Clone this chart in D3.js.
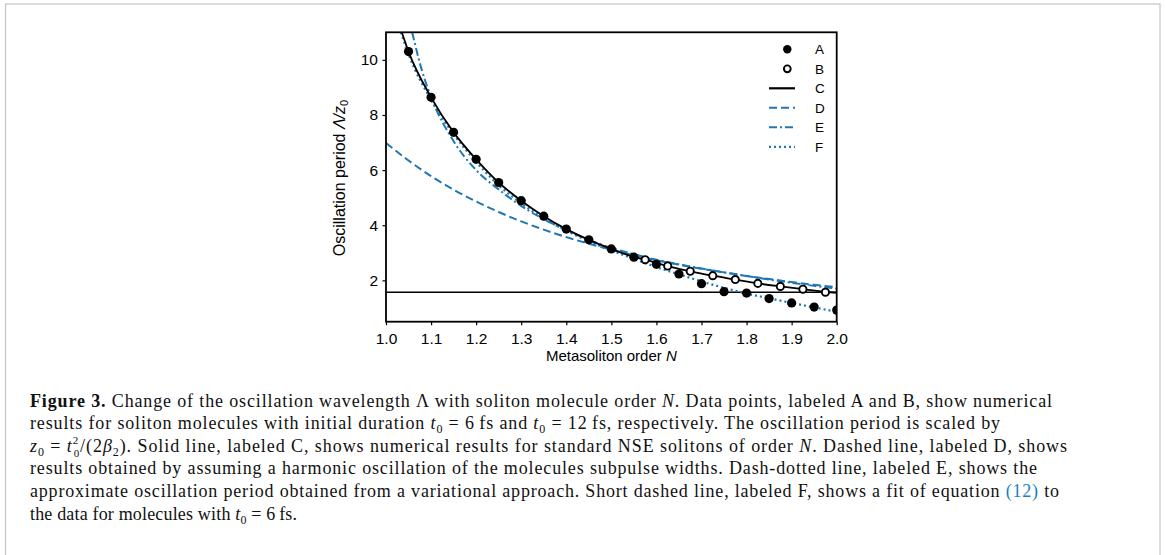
<!DOCTYPE html>
<html><head><meta charset="utf-8">
<script src="https://cdn.jsdelivr.net/npm/d3@7"></script>
<style>
html,body{margin:0;padding:0;background:#fff;}
svg{display:block;}
</style></head>
<body>
<svg id="fig" width="1165" height="555"></svg>
<script>
// ---- data ----
const N_A = [1.05,1.10,1.15,1.20,1.25,1.30,1.35,1.40,1.45,1.50,1.55,1.60,1.65,1.70,1.75,1.80,1.85,1.90,1.95,2.00];
const A_vals = [10.3,8.64,7.37,6.39,5.55,4.89,4.33,3.86,3.47,3.14,2.84,2.58,2.23,1.88,1.59,1.54,1.34,1.18,1.03,0.92];
const N_B = [1.575,1.625,1.675,1.725,1.775,1.825,1.875,1.925,1.975];
const B_vals = [2.75,2.52,2.33,2.17,2.03,1.89,1.78,1.68,1.57];
const N_C = [1.035,1.05,1.10,1.15,1.20,1.25,1.30,1.35,1.40,1.45,1.50,1.55,1.575,1.625,1.675,1.725,1.775,1.825,1.875,1.925,1.975,2.00];
const C_vals = [11.0,10.3,8.64,7.37,6.39,5.55,4.89,4.33,3.86,3.47,3.14,2.85,2.75,2.52,2.33,2.17,2.03,1.89,1.78,1.68,1.58,1.55];
const N_D = [1.00,1.05,1.10,1.15,1.20,1.25,1.30,1.35,1.40,1.45,1.50,1.55,1.60,1.65,1.70,1.75,1.80,1.85,1.90,1.95,2.00];
const D_vals = [6.98,6.35,5.78,5.29,4.86,4.48,4.14,3.84,3.57,3.33,3.11,2.91,2.73,2.57,2.42,2.29,2.16,2.05,1.94,1.84,1.75];
const N_E = [1.058,1.08,1.10,1.15,1.20,1.25,1.30,1.35,1.40,1.45,1.50,1.55,1.60,1.65,1.70,1.75,1.80,1.85,1.90,1.95,2.00];
const E_vals = [11.0,9.6,8.65,7.05,6.0,5.3,4.7,4.22,3.82,3.47,3.18,2.95,2.75,2.58,2.43,2.29,2.16,2.03,1.91,1.80,1.70];
const N_F = [1.033,1.05,1.10,1.15,1.20,1.25,1.30,1.35,1.40,1.45,1.50,1.55,1.60,1.65,1.70,1.75,1.80,1.85,1.90,1.95,2.00];
const F_vals = [11.0,10.2,8.55,7.3,6.3,5.45,4.8,4.25,3.8,3.42,3.08,2.78,2.48,2.22,1.96,1.73,1.52,1.35,1.18,1.02,0.86];
const hLineVal = 1.571;
const xTicks = [1.0,1.1,1.2,1.3,1.4,1.5,1.6,1.7,1.8,1.9,2.0];
const yTicks = [2,4,6,8,10];
const legendLabels = ["A","B","C","D","E","F"];

// ---- layout ----
const svg = d3.select("#fig");
const blue = "#1f77b4";
const L = 386, R = 836.7, T = 32.3, B = 321.7;
const x = d3.scaleLinear().domain([1.0, 2.0]).range([L, R]);
const y = d3.scaleLinear().domain([0.5, 11]).range([B, T]);

// figure frame
svg.append("rect").attr("x",5.5).attr("y",4).attr("width",1154.5).attr("height",600)
  .attr("fill","none").attr("stroke","#c8c8c8").attr("stroke-width",1.3);

svg.append("clipPath").attr("id","clip").append("rect")
  .attr("x",L).attr("y",T).attr("width",R-L).attr("height",B-T);
const plot = svg.append("g").attr("clip-path","url(#clip)");

const line = d3.line().x(d=>x(d[0])).y(d=>y(d[1])).curve(d3.curveMonotoneX);
const zip = (a,b)=>a.map((v,i)=>[v,b[i]]);

// horizontal reference line
plot.append("line").attr("x1",x(1.0)).attr("x2",x(2.0)).attr("y1",y(hLineVal)).attr("y2",y(hLineVal))
  .attr("stroke","#000").attr("stroke-width",1.6);

// D, E, F, C
plot.append("path").attr("d",line(zip(N_D,D_vals))).attr("fill","none").attr("stroke",blue)
  .attr("stroke-width",2).attr("stroke-dasharray","8,4");
plot.append("path").attr("d",line(zip(N_E,E_vals))).attr("fill","none").attr("stroke",blue)
  .attr("stroke-width",2).attr("stroke-dasharray","8,3,2,3");
plot.append("path").attr("d",line(zip(N_F,F_vals))).attr("fill","none").attr("stroke",blue)
  .attr("stroke-width",2.2).attr("stroke-dasharray","2,3");
plot.append("path").attr("d",line(zip(N_C,C_vals))).attr("fill","none").attr("stroke","#000")
  .attr("stroke-width",1.8);

// markers
plot.selectAll("circle.a").data(zip(N_A,A_vals)).join("circle").attr("class","a")
  .attr("cx",d=>x(d[0])).attr("cy",d=>y(d[1])).attr("r",4.6).attr("fill","#000");
plot.selectAll("circle.b").data(zip(N_B,B_vals)).join("circle").attr("class","b")
  .attr("cx",d=>x(d[0])).attr("cy",d=>y(d[1])).attr("r",3.6).attr("fill","#fff")
  .attr("stroke","#000").attr("stroke-width",1.9);

// axes
const fontSans = "'Liberation Sans', Arial, Helvetica, sans-serif";
const xAxis = svg.append("g").attr("transform",`translate(0,${B})`)
  .call(d3.axisBottom(x).tickValues(xTicks).tickFormat(d3.format(".1f")).tickSize(3.5).tickPadding(7.5));
const yAxis = svg.append("g").attr("transform",`translate(${L},0)`)
  .call(d3.axisLeft(y).tickValues(yTicks).tickFormat(d3.format("d")).tickSize(3.5).tickPadding(4.5));
[xAxis,yAxis].forEach(g=>{
  g.attr("font-size",null).attr("font-family",null);
  g.select(".domain").remove();
  g.selectAll(".tick line").attr("stroke","#000").attr("stroke-width",1.2);
  g.selectAll(".tick text").attr("fill","#000").style("font-family",fontSans).style("font-size","15.5px");
});
svg.append("rect").attr("x",L).attr("y",T).attr("width",R-L).attr("height",B-T)
  .attr("fill","none").attr("stroke","#000").attr("stroke-width",1.8);

// axis labels
const xl = svg.append("text").attr("x",(L+R)/2).attr("y",361).attr("text-anchor","middle")
  .style("font-family",fontSans).style("font-size","15px");
xl.append("tspan").text("Metasoliton order ");
xl.append("tspan").attr("font-style","italic").text("N");

const yl = svg.append("text").attr("transform",`translate(345,178) rotate(-90)`).attr("text-anchor","middle")
  .style("font-family",fontSans).style("font-size","16px");
yl.append("tspan").text("Oscillation period ");
yl.append("tspan").attr("font-style","italic").text("\u039B/z");
yl.append("tspan").attr("font-size","11px").attr("dy",3).text("0");

// legend
const lg = svg.append("g");
const lgY0 = 49.3, lgDy = 19.5;
legendLabels.forEach((lab,i)=>{
  const yy = lgY0 + i*lgDy;
  if (lab==="A") lg.append("circle").attr("cx",787.3).attr("cy",yy).attr("r",4.2).attr("fill","#000");
  else if (lab==="B") lg.append("circle").attr("cx",787.3).attr("cy",yy).attr("r",3.4).attr("fill","#fff").attr("stroke","#000").attr("stroke-width",1.9);
  else {
    const st = {C:["#000",2.2,null],D:[blue,2,"8,4"],E:[blue,2,"8,3,2,3"],F:[blue,2.2,"2,3"]}[lab];
    const l = lg.append("line").attr("x1",769).attr("x2",795).attr("y1",yy).attr("y2",yy)
      .attr("stroke",st[0]).attr("stroke-width",st[1]);
    if (st[2]) l.attr("stroke-dasharray",st[2]);
  }
  lg.append("text").attr("x",815).attr("y",yy).attr("dy","0.36em")
    .style("font-family",fontSans).style("font-size","13.5px").text(lab);
});

// caption
const serif = "'Liberation Serif', 'Times New Roman', Times, serif";
const capLines = [
  [["b","Figure 3."],["n"," Change of the oscillation wavelength \u039B with soliton molecule order "],["i","N"],["n",". Data points, labeled A and B, show numerical"]],
  [["n","results for soliton molecules with initial duration "],["i","t"],["sub","0"],["n"," = 6\u2009fs and "],["i","t"],["sub","0"],["n"," = 12\u2009fs, respectively. The oscillation period is scaled by"]],
  [["i","z"],["sub","0"],["n"," = "],["i","t"],["sup","2"],["subx","0"],["n","/(2"],["i","\u03B2"],["sub","2"],["n","). Solid line, labeled C, shows numerical results for standard NSE solitons of order "],["i","N"],["n",". Dashed line, labeled D, shows"]],
  [["n","results obtained by assuming a harmonic oscillation of the molecules subpulse widths. Dash-dotted line, labeled E, shows the"]],
  [["n","approximate oscillation period obtained from a variational approach. Short dashed line, labeled F, shows a fit of equation "],["blue","(12)"],["n"," to"]],
  [["n","the data for molecules with "],["i","t"],["sub","0"],["n"," = 6\u2009fs."]]
];
const capWidths = [1022, 970, 1037, 1007, 1029, 267];
const capY0 = 406.5, capDy = 22.6;
capLines.forEach((segs,li)=>{
  const t = svg.append("text").attr("x",30).attr("y",capY0+li*capDy)
    .style("font-family",serif).style("font-size","18px").attr("fill","#111");
  let shift = 0;
  segs.forEach(([k,s])=>{
    const ts = t.append("tspan").text(s);
    let target = 0, dx = null;
    if (k==="b") ts.attr("font-weight","bold");
    if (k==="i") ts.attr("font-style","italic");
    if (k==="blue") ts.attr("fill","#1a7fc1");
    if (k==="sub") { ts.attr("font-size","12px"); target = 4; }
    if (k==="sup") { ts.attr("font-size","11px"); target = -8; }
    if (k==="subx") { ts.attr("font-size","11px"); target = 5; dx = -5.5; }
    const dy = target - shift;
    if (dy!==0) ts.attr("dy",dy);
    if (dx!==null) ts.attr("dx",dx);
    shift = target;
  });
  const w = t.node().getComputedTextLength();
  if (Math.abs(w - capWidths[li]) > 3) {
    t.attr("textLength",capWidths[li]).attr("lengthAdjust","spacing");
  }
});
</script>
</body></html>
